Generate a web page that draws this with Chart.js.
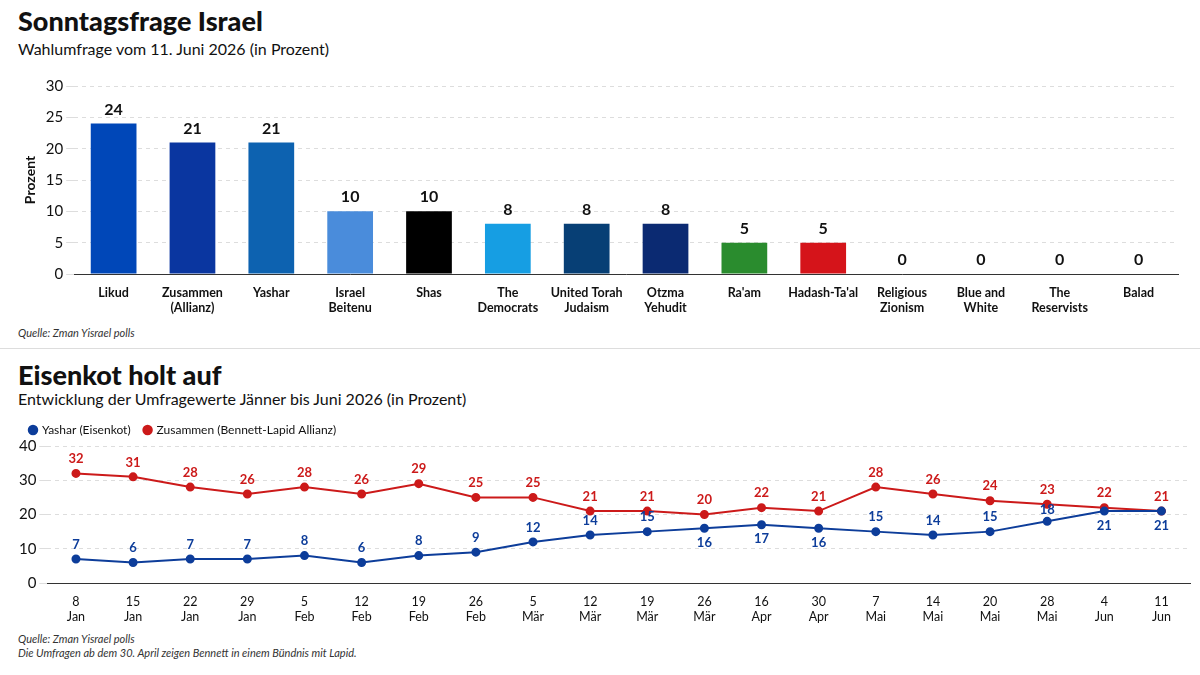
<!DOCTYPE html>
<html><head><meta charset="utf-8">
<script src="https://cdn.jsdelivr.net/npm/chart.js@4"></script>
<style>
body{margin:0;width:1200px;height:675px;background:#fff;font-family:Lato,sans-serif;position:relative;overflow:hidden;color:#111}
.t{position:absolute;left:18px;font-weight:900;font-size:27px}
.s{position:absolute;left:18px;font-size:16px}
.q{position:absolute;left:18px;font-size:11px;font-style:italic;color:#333}
.c{position:absolute;left:0;width:1200px}
.hr{position:absolute;left:0;width:1200px;top:348px;border-top:1px solid #ddd}
</style></head><body>
<div class="t" style="top:4px">Sonntagsfrage Israel</div>
<div class="s" style="top:39px">Wahlumfrage vom 11. Juni 2026 (in Prozent)</div>
<div class="c" style="top:72px;height:246px"><canvas id="bar"></canvas></div>
<div class="q" style="top:326px">Quelle: Zman Yisrael polls</div>
<div class="hr"></div>
<div class="t" style="top:358px">Eisenkot holt auf</div>
<div class="s" style="top:389px">Entwicklung der Umfragewerte Jänner bis Juni 2026 (in Prozent)</div>
<div class="c" style="top:410px;height:217px"><canvas id="line"></canvas></div>
<div class="q" style="top:632px">Quelle: Zman Yisrael polls</div>
<div class="q" style="top:646px">Die Umfragen ab dem 30. April zeigen Bennett in einem Bündnis mit Lapid.</div>
<script>
const parties = [
  ['Likud', 24, '#0047b8'], [['Zusammen', '(Allianz)'], 21, '#0a36a0'], ['Yashar', 21, '#0d62b0'],
  [['Israel', 'Beitenu'], 10, '#4a8cdb'], ['Shas', 10, '#000000'], [['The', 'Democrats'], 8, '#169ee3'],
  [['United Torah', 'Judaism'], 8, '#073f75'], [['Otzma', 'Yehudit'], 8, '#0b2a72'], ["Ra'am", 5, '#2a8c2e'],
  ["Hadash-Ta'al", 5, '#d5141a'], [['Religious', 'Zionism'], 0, '#888'], [['Blue and', 'White'], 0, '#888'],
  [['The', 'Reservists'], 0, '#888'], ['Balad', 0, '#888']
];
const dates = [['8','Jan'],['15','Jan'],['22','Jan'],['29','Jan'],['5','Feb'],['12','Feb'],['19','Feb'],['26','Feb'],['5','Mär'],['12','Mär'],['19','Mär'],['26','Mär'],['16','Apr'],['30','Apr'],['7','Mai'],['14','Mai'],['20','Mai'],['28','Mai'],['4','Jun'],['11','Jun']];
const zusammen = [32,31,28,26,28,26,29,25,25,21,21,20,22,21,28,26,24,23,22,21];
const yashar = [7,6,7,7,8,6,8,9,12,14,15,16,17,16,15,14,15,18,21,21];
const yasharBelow = [11,12,13,18,19];

const labels = {
  id: 'labels',
  afterDatasetsDraw(chart) {
    const ctx = chart.ctx;
    ctx.save();
    ctx.textAlign = 'center';
    chart.data.datasets.forEach((ds, di) => {
      const meta = chart.getDatasetMeta(di);
      meta.data.forEach((el, i) => {
        const v = ds.data[i];
        if (chart.config.type === 'bar') {
          ctx.font = 'bold 16px Lato'; ctx.fillStyle = '#111'; ctx.textBaseline = 'bottom';
          ctx.fillText(v, el.x, el.y - 6);
        } else {
          ctx.font = 'bold 13px Lato'; ctx.fillStyle = ds.borderColor;
          const below = di === 0 && yasharBelow.includes(i);
          ctx.textBaseline = below ? 'top' : 'bottom';
          ctx.fillText(v, el.x, below ? el.y + 8 : el.y - (di === 0 && i === 17 ? 5 : 8));
        }
      });
    });
    ctx.restore();
  }
};

new Chart(document.getElementById('bar'), {
  type: 'bar',
  data: {
    labels: parties.map(p => p[0]),
    datasets: [{ data: parties.map(p => p[1]), backgroundColor: parties.map(p => p[2]), categoryPercentage: 1, barPercentage: 0.58 }]
  },
  options: {
    responsive: true, maintainAspectRatio: false, animation: false,
    layout: { padding: { top: 14, right: 22, left: 18 } },
    plugins: { legend: { display: false }, tooltip: { enabled: false } },
    scales: {
      x: { grid: { display: false }, border: { color: '#333' },
           ticks: { color: '#111', font: { size: 12.5, weight: 'bold', family: 'Lato' }, maxRotation: 0, autoSkip: false } },
      y: { min: 0, max: 30, ticks: { stepSize: 5, color: '#111', font: { size: 15, family: 'Lato' } },
           grid: { color: '#ddd' }, border: { display: false, dash: [4, 4] },
           title: { display: true, text: 'Prozent', color: '#111', font: { size: 14, weight: 'bold', family: 'Lato' } } }
    }
  },
  plugins: [labels]
});

new Chart(document.getElementById('line'), {
  type: 'line',
  data: {
    labels: dates,
    datasets: [
      { label: 'Yashar (Eisenkot)', data: yashar, borderColor: '#0d3d9a', backgroundColor: '#0d3d9a', borderWidth: 2, pointRadius: 3.5 },
      { label: 'Zusammen (Bennett-Lapid Allianz)', data: zusammen, borderColor: '#cc1a1a', backgroundColor: '#cc1a1a', borderWidth: 2, pointRadius: 3.5 }
    ]
  },
  options: {
    responsive: true, maintainAspectRatio: false, animation: false,
    layout: { padding: { right: 10, left: 16 } },
    plugins: {
      legend: { position: 'top', align: 'start',
        labels: { usePointStyle: true, pointStyle: 'circle', boxWidth: 6, boxHeight: 6, color: '#111', font: { size: 12, family: 'Lato' }, padding: 14 } },
      tooltip: { enabled: false }
    },
    scales: {
      x: { offset: true, grid: { display: false }, border: { color: '#333' },
           ticks: { color: '#111', font: { size: 12.5, family: 'Lato' }, maxRotation: 0, autoSkip: false } },
      y: { min: 0, max: 40, ticks: { stepSize: 10, color: '#111', font: { size: 15, family: 'Lato' } },
           grid: { color: '#ddd' }, border: { display: false, dash: [4, 4] } }
    }
  },
  plugins: [labels]
});
</script>
</body></html>
